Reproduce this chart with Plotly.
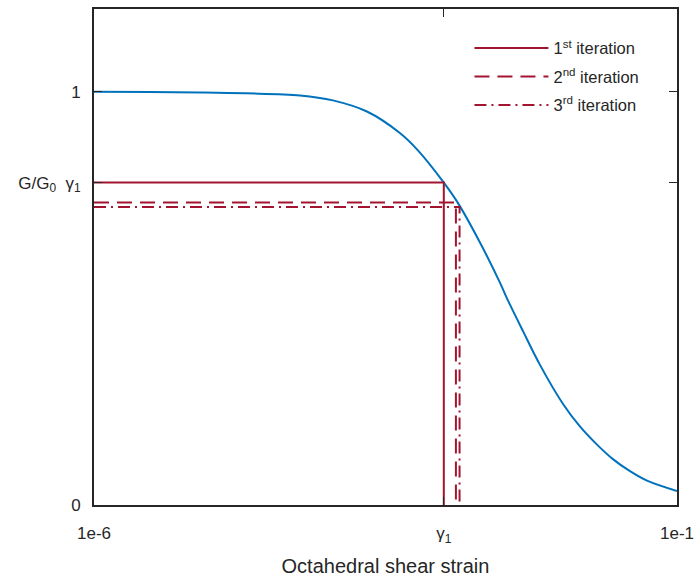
import plotly.graph_objects as go

# Modulus degradation curve
strain = [1e-6, 3e-6, 8.1e-6, 2e-5, 5.85e-5, 1.12e-4, 2.19e-4, 4.2e-4, 6.0e-4, 1.0e-3,
          1.32e-3, 2.0e-3, 3.03e-3, 3.48e-3, 4.79e-3, 6.68e-3, 1.05e-2, 1.47e-2, 2.06e-2,
          2.82e-2, 3.95e-2, 5.53e-2, 1e-1]
g_ratio = [1.0, 0.999, 0.998, 0.996, 0.991, 0.979, 0.952, 0.900, 0.858, 0.780,
           0.731, 0.640, 0.538, 0.500, 0.420, 0.339, 0.245, 0.190, 0.146,
           0.111, 0.082, 0.059, 0.034]

# Iterations: (strain, G/G0)
iter_names = ["1<sup>st</sup> iteration", "2<sup>nd</sup> iteration", "3<sup>rd</sup> iteration"]
iter_strain = [1.0e-3, 1.27e-3, 1.365e-3]
iter_g = [0.780, 0.732, 0.721]
iter_dash = ["solid", "15px,8px", "12px,5px,2px,5px"]

x_ticks = [1e-6, 1e-3, 1e-1]
x_ticktext = ["1e-6", "γ<sub>1</sub>", "1e-1"]
y_ticks = [0, 0.78, 1]
y_ticktext = ["0", "G/G<sub>0</sub>  γ<sub>1</sub>", "1"]

blue = "#0072BD"
red = "#A2142F"
axcol = "#262626"

fig = go.Figure()
fig.add_trace(go.Scatter(x=strain, y=g_ratio, mode="lines",
                         line=dict(color=blue, width=2, shape="spline", smoothing=1.0),
                         showlegend=False))
for i, (name, s, g, d) in enumerate(zip(iter_names, iter_strain, iter_g, iter_dash)):
    fig.add_trace(go.Scatter(x=[strain[0], s, s], y=[g, g, 0], mode="lines", name=name,
                             legendgroup=f"g{i}",
                             line=dict(color=red, width=2, dash=d)))

fig.update_layout(
    width=697, height=579,
    margin=dict(l=94, r=20, t=9, b=74),
    plot_bgcolor="white", paper_bgcolor="white",
    font=dict(family="Liberation Sans, Arial", size=17, color=axcol),
    legend=dict(x=0.644, y=0.956, xanchor="left", yanchor="top", bgcolor="rgba(0,0,0,0)",
                itemwidth=74, font=dict(size=16.5), tracegroupgap=4),
    xaxis=dict(type="log", range=[-6, -1], tickmode="array", tickvals=x_ticks, ticktext=x_ticktext,
               ticks="inside", ticklen=8, tickcolor=axcol, showline=True, linecolor=axcol, linewidth=2,
               mirror="ticks", showgrid=False, zeroline=False, ticklabelstandoff=12, automargin=False,
               title=dict(text="Octahedral shear strain", standoff=14)),
    yaxis=dict(range=[0, 1.2], tickmode="array", tickvals=y_ticks, ticktext=y_ticktext,
               ticks="inside", ticklen=8, tickcolor=axcol, showline=True, linecolor=axcol, linewidth=2,
               mirror="ticks", showgrid=False, zeroline=False, ticklabelstandoff=8, automargin=False),
)
fig.write_html("out.html")
